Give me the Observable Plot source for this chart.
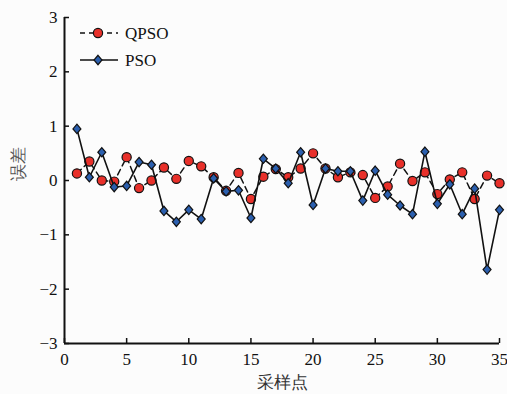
<!DOCTYPE html>
<html>
<head>
<meta charset="utf-8">
<script src="https://cdn.jsdelivr.net/npm/d3@7"></script>
<script src="https://cdn.jsdelivr.net/npm/@observablehq/plot@0.6"></script>
<style>
  html, body { margin: 0; padding: 0; background: #fcfcfc; }
  #wrap { position: relative; width: 507px; height: 394px; }
  #legend { position: absolute; left: 0; top: 0; }
  #wrap svg text { font-family: 'Liberation Serif', 'Times New Roman', serif; }
  #wrap svg text.cjk { font-family: 'Liberation Serif', 'Noto Sans CJK SC', serif; }
</style>
</head>
<body>
<div id="wrap"></div>
<script>
const samples = [1,2,3,4,5,6,7,8,9,10,11,12,13,14,15,16,17,18,19,20,21,22,23,24,25,26,27,28,29,30,31,32,33,34,35];
const qpso = [0.13,0.35,0.00,-0.02,0.43,-0.14,0.00,0.24,0.03,0.36,0.26,0.06,-0.19,0.14,-0.34,0.07,0.21,0.06,0.22,0.50,0.22,0.06,0.15,0.10,-0.32,-0.11,0.31,-0.01,0.15,-0.25,0.02,0.15,-0.34,0.09,-0.05];
const pso = [0.95,0.06,0.52,-0.12,-0.10,0.34,0.29,-0.56,-0.76,-0.54,-0.71,0.04,-0.20,-0.18,-0.69,0.40,0.22,-0.05,0.52,-0.45,0.22,0.17,0.17,-0.37,0.18,-0.26,-0.46,-0.62,0.53,-0.43,-0.07,-0.62,-0.15,-1.64,-0.54];
const xTicks = [0,5,10,15,20,25,30,35];
const yTicks = [-3,-2,-1,0,1,2,3];
const seriesNames = ["QPSO", "PSO"];

const qData = samples.map((s, i) => ({x: s, y: qpso[i]}));
const pData = samples.map((s, i) => ({x: s, y: pso[i]}));

const diamond = {
  draw(ctx, size) {
    const h = Math.sqrt(size) * 0.66, w = h * 0.85;
    ctx.moveTo(0, -h); ctx.lineTo(w, 0); ctx.lineTo(0, h); ctx.lineTo(-w, 0); ctx.closePath();
  }
};

const serif = "'Liberation Serif', 'Times New Roman', serif";
const cjk = "'Liberation Serif', 'Noto Sans CJK SC', serif";
const fmt = d3.format("d");

const chart = Plot.plot({
  width: 507,
  height: 394,
  marginLeft: 64,
  marginRight: 8,
  marginTop: 17,
  marginBottom: 51,
  style: {background: "#fcfcfc", fontFamily: serif, fontSize: "16px", color: "#111"},
  x: {domain: [0, 35]},
  y: {domain: [-3, 3]},
  marks: [
    Plot.axisX({ticks: xTicks, tickSize: 5, dy: -5, tickFormat: () => "", strokeWidth: 1.5, label: null}),
    Plot.axisX({ticks: xTicks, tickSize: 0, tickPadding: 9, tickFormat: fmt, label: null, fontSize: 17, fontFamily: serif, fill: "#111"}),
    Plot.axisY({ticks: yTicks, tickSize: 5, dx: 5, tickFormat: () => "", strokeWidth: 1.5, label: null}),
    Plot.axisY({ticks: yTicks, tickSize: 0, tickPadding: 7, tickFormat: fmt, label: null, fontSize: 17, fontFamily: serif, fill: "#111"}),
    Plot.ruleY([-3], {stroke: "#111", strokeWidth: 2}),
    Plot.ruleX([0], {stroke: "#111", strokeWidth: 2}),
    Plot.line(qData, {x: "x", y: "y", stroke: "#111", strokeWidth: 1.5, strokeDasharray: "6,4"}),
    Plot.dot(qData, {x: "x", y: "y", r: 4.6, fill: "#e8302a", stroke: "#111", strokeWidth: 1.2}),
    Plot.line(pData, {x: "x", y: "y", stroke: "#111", strokeWidth: 1.6}),
    Plot.dot(pData, {x: "x", y: "y", r: 4, symbol: diamond, fill: "#2b5fae", stroke: "#111", strokeWidth: 1.2}),
    Plot.text(["采样点"], {frameAnchor: "bottom", dy: 44, fontSize: 17, fontFamily: cjk, fill: "#333", className: "cjk"}),
    Plot.text(["误差"], {frameAnchor: "left", dx: -46, rotate: -90, fontSize: 17, fontFamily: cjk, fill: "#555"})
  ]
});

const wrap = document.getElementById("wrap");
wrap.appendChild(chart);

// legend overlay
const ns = "http://www.w3.org/2000/svg";
const leg = document.createElementNS(ns, "svg");
leg.setAttribute("id", "legend");
leg.setAttribute("width", 200);
leg.setAttribute("height", 80);
const rows = [
  {name: seriesNames[0], y: 33, dash: "5,4", marker: "circle", fill: "#e8302a"},
  {name: seriesNames[1], y: 60, dash: null, marker: "diamond", fill: "#2b5fae"}
];
for (const r of rows) {
  const l = document.createElementNS(ns, "line");
  l.setAttribute("x1", 80); l.setAttribute("x2", 118);
  l.setAttribute("y1", r.y); l.setAttribute("y2", r.y);
  l.setAttribute("stroke", "#111"); l.setAttribute("stroke-width", 1.5);
  if (r.dash) l.setAttribute("stroke-dasharray", r.dash);
  leg.appendChild(l);
  let m;
  if (r.marker === "circle") {
    m = document.createElementNS(ns, "circle");
    m.setAttribute("cx", 98); m.setAttribute("cy", r.y); m.setAttribute("r", 4.6);
  } else {
    m = document.createElementNS(ns, "path");
    m.setAttribute("d", `M98,${r.y - 4.7}L102,${r.y}L98,${r.y + 4.7}L94,${r.y}Z`);
  }
  m.setAttribute("fill", r.fill); m.setAttribute("stroke", "#111"); m.setAttribute("stroke-width", 1.2);
  leg.appendChild(m);
  const t = document.createElementNS(ns, "text");
  t.setAttribute("x", 125); t.setAttribute("y", r.y);
  t.setAttribute("dy", "0.35em");
  t.setAttribute("font-family", serif); t.setAttribute("font-size", 17);
  t.setAttribute("fill", "#111");
  t.textContent = r.name;
  leg.appendChild(t);
}
wrap.appendChild(leg);
</script>
</body>
</html>
